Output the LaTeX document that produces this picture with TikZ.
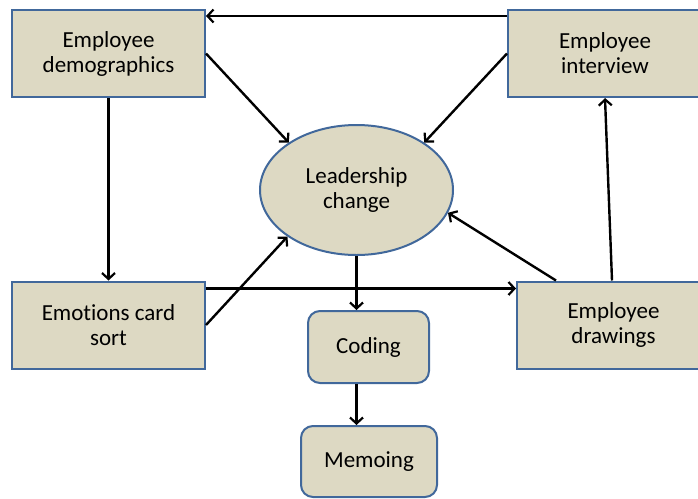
\documentclass[tikz,border=0pt]{standalone}
\usepackage{fontspec}
\setmainfont[Ligatures=NoCommon]{Carlito}
\usetikzlibrary{shapes.geometric,arrows.meta}
\definecolor{boxfill}{RGB}{221,217,195}
\definecolor{boxdraw}{RGB}{65,104,155}
\tikzset{
  base/.style={fill=boxfill,draw=boxdraw,line width=2pt,align=center,inner sep=0pt,
    font=\fontsize{23}{25}\selectfont},
  box/.style={base,rectangle,minimum width=193pt,minimum height=87pt},
  rbox/.style={base,rectangle,rounded corners=12pt},
  ell/.style={base,ellipse,minimum width=193pt,minimum height=130pt},
  arr/.style={line width=2.4pt,-{Straight Barb[length=6pt,width=13pt,line width=2.2pt]}}
}
\begin{document}
\begin{tikzpicture}[x=1pt,y=-1pt]
\useasboundingbox[fill=white] (0,0) rectangle (698,498);
\node[box] (dem) at (108.5,53.5) {Employee\\demographics};
\node[box,minimum width=194pt] (int) at (605,53.5) {Employee\\interview};
\node[box] (emo) at (108.5,325) {Emotions card\\sort};
\node[box] (drw) at (613.5,325) {Employee\\drawings};
\node[ell] (lc) at (356.5,190) {Leadership\\change};
\node[rbox,minimum width=121pt,minimum height=72pt] (cod) at (368.5,347) {Coding};
\node[rbox,minimum width=136pt,minimum height=71pt] (mem) at (369,461.5) {Memoing};

\draw[arr] ([yshift=-7pt]int.north west) -- ([yshift=-7pt]dem.north east);
\draw[arr] (dem.east) -- (lc.145);
\draw[arr] (int.west) -- (lc.35);
\draw[arr] (dem.south) -- (emo.north);
\draw[arr] (emo.east) -- (lc.214);
\draw[arr] ([yshift=-8pt]emo.north east) -- ([yshift=-8pt]drw.north west);
\draw[arr] (lc.south) -- (lc.south |- cod.north);
\draw[arr] (lc.south |- cod.south) -- (lc.south |- mem.north);
\draw[arr] ([xshift=40pt]drw.north west) -- (lc.346);
\draw[arr] ([xshift=-1.5pt]drw.north) -- (int.south);
\end{tikzpicture}
\end{document}
